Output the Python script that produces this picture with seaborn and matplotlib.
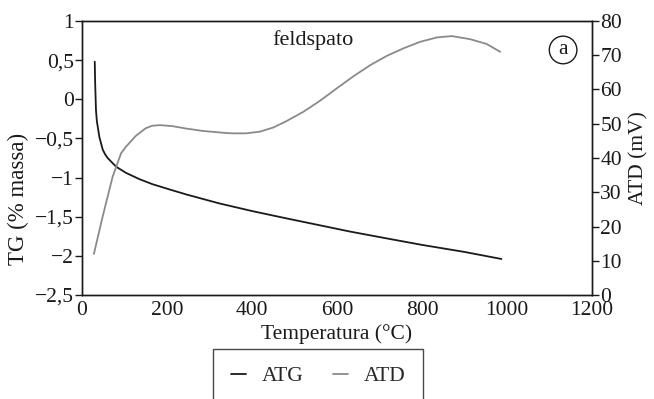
import numpy as np
import pandas as pd
import matplotlib
matplotlib.use("Agg")
import matplotlib.pyplot as plt
import seaborn as sns
from matplotlib.lines import Line2D

sns.set_theme(style="white")
plt.rcParams['font.family'] = ['Liberation Serif', 'DejaVu Serif']

# ATG (left axis, TG % massa)
atg_temp = [30, 31, 32.9, 35, 40.8, 48.6, 54, 60.4, 80, 103.5, 135, 166, 205, 245, 323, 402,
            480, 631, 700, 800, 900, 987]
atg_tg = [0.48, 0.2, -0.14, -0.28, -0.48, -0.64, -0.70, -0.75, -0.86, -0.94, -1.02, -1.085,
          -1.15, -1.215, -1.33, -1.43, -1.52, -1.69, -1.76, -1.86, -1.95, -2.04]

# ATD (right axis, mV)
atd_temp = [28, 48.6, 72, 92, 103.5, 127, 150, 165, 183, 213, 245, 262, 284, 339, 356, 386,
            419, 450, 480, 521, 560, 599, 638, 678, 717, 756, 795, 835, 870, 913, 952, 984]
atd_mv = [12.0, 22.9, 34.5, 41.4, 43.3, 46.5, 48.7, 49.4, 49.6, 49.3, 48.6, 48.3, 47.9, 47.3,
          47.2, 47.2, 47.7, 48.9, 50.7, 53.5, 56.7, 60.3, 63.8, 67.1, 69.8, 72.0, 73.9, 75.2,
          75.6, 74.7, 73.3, 71.0]

x_ticks = [0, 200, 400, 600, 800, 1000, 1200]
left_ticks = [1, 0.5, 0, -0.5, -1, -1.5, -2, -2.5]
left_labels = ["1", "0,5", "0", "\u22120,5", "\u22121", "\u22121,5", "\u22122", "\u22122,5"]
right_ticks = [0, 10, 20, 30, 40, 50, 60, 70, 80]

df_atg = pd.DataFrame({"T": atg_temp, "v": atg_tg})
df_atd = pd.DataFrame({"T": atd_temp, "v": atd_mv})

fig = plt.figure(figsize=(6.54, 3.99), dpi=100)
ax = fig.add_axes([82/654, 1-295/399, (592-82)/654, (295-21)/399])
ax2 = ax.twinx()

black = "#1a1a1a"
gray = "#8a8a8a"
sns.lineplot(data=df_atg, x="T", y="v", ax=ax, color=black, linewidth=1.3)
sns.lineplot(data=df_atd, x="T", y="v", ax=ax2, color=gray, linewidth=1.3)

ax.set_xlim(0, 1200)
ax.set_ylim(-2.5, 1)
ax2.set_ylim(0, 80)
ax.set_xticks(x_ticks)
ax.set_xticklabels([str(t) for t in x_ticks])
ax.set_yticks(left_ticks)
ax.set_yticklabels(left_labels)
ax2.set_yticks(right_ticks)
ax2.set_yticklabels([str(t) for t in right_ticks])

fs = 15.5
for a in (ax, ax2):
    for s in a.spines.values():
        s.set_color(black)
        s.set_linewidth(1.0)
ax.tick_params(axis='x', direction='in', length=5, width=1, color=black, labelsize=fs, pad=4, labelcolor=black)
ax.tick_params(axis='y', direction='out', length=5, width=1, color=black, labelsize=fs, pad=1, labelcolor=black, left=True)
ax2.tick_params(axis='y', direction='out', length=5, width=1, color=black, labelsize=fs, pad=1, labelcolor=black, right=True)

ax.set_xlabel("Temperatura (\u00b0C)", fontsize=fs, color=black, labelpad=3)
ax.set_ylabel("TG (% massa)", fontsize=16.5, color=black)
ax.yaxis.set_label_coords(-0.104, 0.35)
ax2.set_ylabel("ATD (mV)", fontsize=fs, color=black, labelpad=5)

ax.text(543, 0.76, "feldspato", ha='center', va='center', fontsize=16, color=black)
ax.text(1132, 0.63, "a", ha='center', va='center', fontsize=fs, color=black,
        bbox=dict(boxstyle='circle,pad=0.2', fc='white', ec=black, lw=1.0))

handles = [Line2D([], [], color=black, lw=1.3), Line2D([], [], color=gray, lw=1.3)]
leg = fig.legend(handles, ["ATG", "ATD"], loc='upper center', bbox_to_anchor=(318/654, 1-349/399),
                 ncol=2, fontsize=fs, frameon=True, fancybox=False, edgecolor=black,
                 handlelength=0.7, handletextpad=0.75, columnspacing=1.35, borderpad=0.8,
                 borderaxespad=0)
leg.get_frame().set_linewidth(1.0)

fig.savefig("out.png", dpi=100)
